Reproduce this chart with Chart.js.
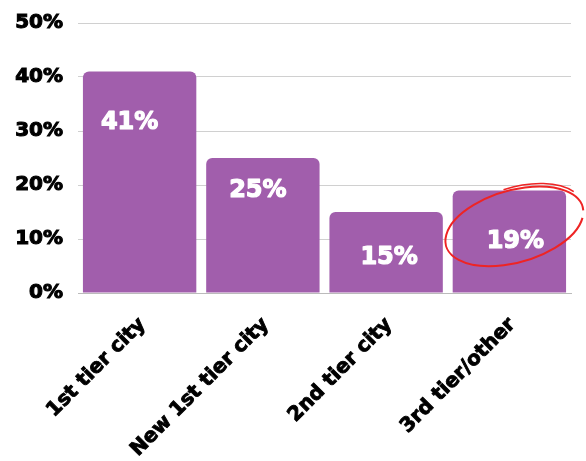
<!DOCTYPE html>
<html>
<head>
<meta charset="utf-8">
<script src="https://cdn.jsdelivr.net/npm/chart.js@4"></script>
<style>
  html, body { margin: 0; padding: 0; background: #fff; }
  #wrap { width: 586px; height: 461px; }
</style>
</head>
<body>
<div id="wrap"><canvas id="myChart" width="586" height="461"></canvas></div>
<script>
var tiers = ["1st tier city", "New 1st tier city", "2nd tier city", "3rd tier/other"]
var shares = [41, 25, 15, 19]
var yTicks = [0, 10, 20, 30, 40, 50]

var purple = "#a15eac"
var font = "'DejaVu Sans', sans-serif"
// where each value label sits, relative to the bar's top centre
var labelShift = [[-10, 51], [-5, 33], [3, 46], [6, 51]]

// white value labels inside each bar + red circle around the last one
var barLabels = {
    id: 'barLabels',
    afterDatasetsDraw: function(chart) {
        var ctx = chart.ctx
        var meta = chart.getDatasetMeta(0)
        ctx.save()
        ctx.fillStyle = "#fff"
        ctx.strokeStyle = "#fff"
        ctx.lineWidth = 1.2
        ctx.lineJoin = "round"
        ctx.font = "bold 24px " + font
        ctx.textAlign = "center"
        ctx.textBaseline = "middle"
        meta.data.forEach(function(bar, i) {
            var x = bar.x + labelShift[i][0], y = bar.y + labelShift[i][1]
            ctx.fillText(shares[i] + "%", x, y)
            ctx.strokeText(shares[i] + "%", x, y)
        })
        ctx.restore()

        // hand-drawn style ellipse
        var last = meta.data[meta.data.length - 1]
        var cx = last.x + 5, cy = last.y + 36
        ctx.save()
        ctx.strokeStyle = "#ee2424"
        ctx.lineWidth = 2
        ctx.beginPath()
        ctx.ellipse(cx, cy, 71, 36, -0.28, 0.3, Math.PI * 2 + 0.1)
        ctx.stroke()
        ctx.lineWidth = 1.5
        ctx.beginPath()
        ctx.ellipse(cx + 2, cy - 2, 70, 37, -0.3, -1.6, -0.4)
        ctx.stroke()
        ctx.restore()
    }
}

var chart = new Chart(document.getElementById("myChart").getContext('2d'), {
    type: 'bar',
    data: {
        labels: tiers,
        datasets: [{
            data: shares,
            backgroundColor: purple,
            borderRadius: { topLeft: 6, topRight: 6 },
            borderSkipped: 'bottom',
            barPercentage: 0.92,
            categoryPercentage: 1
        }]
    },
    plugins: [barLabels],
    options: {
        responsive: false,
        animation: false,
        layout: { padding: { top: 0, right: 15, left: 0, bottom: 0 } },
        plugins: { legend: { display: false }, tooltip: { enabled: false } },
        scales: {
            x: {
                grid: { display: false, drawTicks: false },
                border: { color: "#bbb" },
                ticks: {
                    color: "#000",
                    textStrokeColor: "#000",
                    textStrokeWidth: 0.9,
                    font: { family: font, size: 20, weight: 'bold' },
                    maxRotation: 45, minRotation: 45,
                    padding: 20,
                    labelOffset: 3
                },
                afterFit: function(s) { s.height = 168 }
            },
            y: {
                min: 0, max: 50,
                grid: { color: "#d0d0d0", drawTicks: false },
                border: { display: false },
                afterBuildTicks: function(s) { s.ticks = yTicks.map(function(v) { return { value: v } }) },
                ticks: {
                    color: "#000",
                    textStrokeColor: "#000",
                    textStrokeWidth: 1.1,
                    font: { family: font, size: 20, weight: 'bold' },
                    padding: 15,
                    callback: function(v) { return v + "%" }
                },
                afterFit: function(s) { s.width = 78; s.paddingTop = 23 }
            }
        }
    }
})
</script>
</body>
</html>
